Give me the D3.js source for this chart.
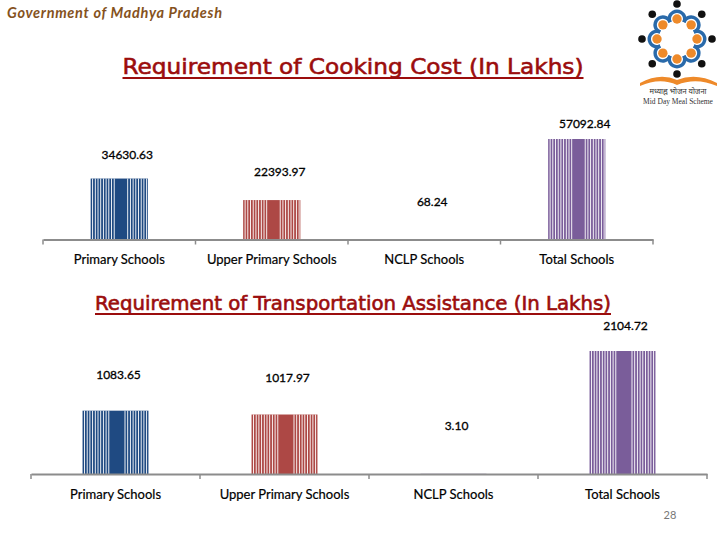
<!DOCTYPE html>
<html>
<head>
<meta charset="utf-8">
<script src="https://cdn.jsdelivr.net/npm/d3@7"></script>
<style>
  body { margin: 0; background: #fff; }
  svg { display: block; }
</style>
</head>
<body>
<svg id="slide" width="720" height="540"></svg>
<script>
// values
var categories = ["Primary Schools", "Upper Primary Schools", "NCLP Schools", "Total Schools"];
var cookingCost = [34630.63, 22393.97, 68.24, 57092.84];
var transportCost = [1083.65, 1017.97, 3.10, 2104.72];
var cookingText = ["34630.63", "22393.97", "68.24", "57092.84"];
var transportText = ["1083.65", "1017.97", "3.10", "2104.72"];
var barColors = ["#1f4a82", "#ad4845", "#7a5d9a", "#7a5d9a"];

var svg = d3.select("#slide");
var labelFont = "Lato, 'Open Sans', sans-serif";

// header
svg.append("text")
  .attr("x", 7).attr("y", 18)
  .attr("font-family", labelFont)
  .attr("font-weight", "bold").attr("font-style", "italic")
  .attr("font-size", 14.5)
  .attr("fill", "#85521d")
  .attr("textLength", 215)
  .text("Government of Madhya Pradesh");

function title(txt, cx, y, size, len){
  svg.append("text")
    .attr("x", cx).attr("y", y)
    .attr("text-anchor", "middle")
    .attr("font-family", "'DejaVu Sans', sans-serif")
    .attr("font-size", size)
    .attr("fill", "#9b0d0d")
    .attr("stroke", "#9b0d0d").attr("stroke-width", 0.6)
    .attr("textLength", len)
    .attr("lengthAdjust", "spacingAndGlyphs")
    .text(txt);
  svg.append("line")
    .attr("x1", cx - len/2).attr("x2", cx + len/2)
    .attr("y1", y + 4).attr("y2", y + 4)
    .attr("stroke", "#9b0d0d").attr("stroke-width", 2);
}

function barChart(values, texts, o){
  var x = d3.scaleBand().domain(categories).range([o.x0, o.x1]);
  var y = d3.scaleLinear().domain([0, d3.max(values)]).range([o.base, o.top]);
  var ly = d3.scaleLinear().domain([0, d3.max(values)]).range([o.lbase, o.ltop]);
  var bw = x.bandwidth()*o.frac;
  var g = svg.append("g");

  var bars = g.selectAll(".bar").data(values).enter().append("g").attr("class", "bar");
  bars.append("rect")
    .attr("x", function(d,i){ return x(categories[i]) + (x.bandwidth()-bw)/2; })
    .attr("y", function(d){ return y(d); })
    .attr("width", bw)
    .attr("height", function(d){ return o.base - y(d); })
    .attr("fill", function(d,i){ return barColors[i]; });

  // white stripes across each bar, solid band left in the middle
  bars.each(function(d,i){
    if (o.base - y(d) < 1) return;
    var left = x(categories[i]) + (x.bandwidth()-bw)/2;
    for (var s = 1.5; s < bw - 0.5; s += 2.7){
      var f = s/bw;
      if (f > 0.42 && f < 0.62) continue;
      d3.select(this).append("rect")
        .attr("x", left + s).attr("y", y(d))
        .attr("width", 0.9).attr("height", o.base - y(d))
        .attr("fill", "#fff");
    }
  });

  var axis = g.append("g")
    .attr("transform", "translate(0," + o.base + ")")
    .call(d3.axisBottom(x).tickValues([]).tickSize(0).tickSizeOuter(0));
  axis.select(".domain").attr("stroke", "#8c8c8c").attr("stroke-width", 2);
  // tick marks on band edges
  var edges = categories.map(function(c){ return x(c); }).concat([o.x1]);
  g.selectAll(".edge").data(edges).enter().append("line")
    .attr("x1", function(d){ return d; }).attr("x2", function(d){ return d; })
    .attr("y1", o.base).attr("y2", o.base + 5)
    .attr("stroke", "#8c8c8c").attr("stroke-width", 1.5);

  g.selectAll(".cat").data(categories).enter().append("text")
    .attr("x", function(d){ return x(d) + x.bandwidth()/2; })
    .attr("y", o.base + 20)
    .attr("dy", "0.35em")
    .attr("text-anchor", "middle")
    .attr("font-family", labelFont)
    .attr("font-size", 13)
    .attr("fill", "#000")
    .attr("stroke", "#000").attr("stroke-width", 0.2)
    .text(function(d){ return d; });

  g.selectAll(".val").data(values).enter().append("text")
    .attr("x", function(d,i){ return x(categories[i]) + x.bandwidth()/2 + o.dx; })
    .attr("y", function(d){ return ly(d); })
    .attr("dy", "0.35em")
    .attr("text-anchor", "middle")
    .attr("font-family", labelFont)
    .attr("font-size", 12)
    .attr("fill", "#000")
    .attr("stroke", "#000").attr("stroke-width", 0.3)
    .text(function(d,i){ return texts[i]; });
}

title("Requirement of Cooking Cost (In Lakhs)", 353, 74, 22, 461);
barChart(cookingCost, cookingText,
  {x0: 43, x1: 653, base: 239.5, top: 139, lbase: 202, ltop: 124, frac: 0.375, dx: 8});

title("Requirement of Transportation Assistance (In Lakhs)", 353, 310, 19, 516);
barChart(transportCost, transportText,
  {x0: 31, x1: 707, base: 474, top: 351, lbase: 426, ltop: 326, frac: 0.39, dx: 3});

// page number
svg.append("text")
  .attr("x", 670).attr("y", 519)
  .attr("text-anchor", "middle")
  .attr("font-family", labelFont)
  .attr("font-size", 11)
  .attr("fill", "#777")
  .text("28");

// Mid Day Meal logo (simplified)
var logo = svg.append("g").attr("transform", "translate(677,39)");
d3.range(8).forEach(function(k){
  var a = k*Math.PI/4 - Math.PI/2;
  var hx = 20*Math.cos(a), hy = 20*Math.sin(a);
  var arc = d3.arc().innerRadius(6).outerRadius(9.5)
    .startAngle(a + Math.PI/2 - 2.0).endAngle(a + Math.PI/2 + 2.0);
  logo.append("path")
    .attr("transform", "translate(" + hx + "," + hy + ")")
    .attr("d", arc())
    .attr("fill", "#2a6aaa");
  logo.append("circle").attr("cx", hx).attr("cy", hy).attr("r", 4.7).attr("fill", "#ee8a2a");
  logo.append("circle").attr("cx", 35*Math.cos(a)).attr("cy", 35*Math.sin(a)).attr("r", 3.8).attr("fill", "#111");
});
// open book
svg.append("path")
  .attr("d", "M640,83 Q660,72 677,80 Q696,72 717,83 L717,86 Q696,77 677,85 Q660,77 640,86 Z")
  .attr("fill", "#ee8a2a");
svg.append("text")
  .attr("x", 678).attr("y", 94).attr("text-anchor", "middle")
  .attr("font-family", "'Noto Sans', sans-serif").attr("font-size", 7.5).attr("fill", "#333")
  .text("मध्याह्न भोजन योजना");
svg.append("text")
  .attr("x", 678).attr("y", 104).attr("text-anchor", "middle")
  .attr("font-family", "'Liberation Serif', serif").attr("font-size", 7.5).attr("fill", "#333")
  .text("Mid Day Meal Scheme");
</script>
</body>
</html>
